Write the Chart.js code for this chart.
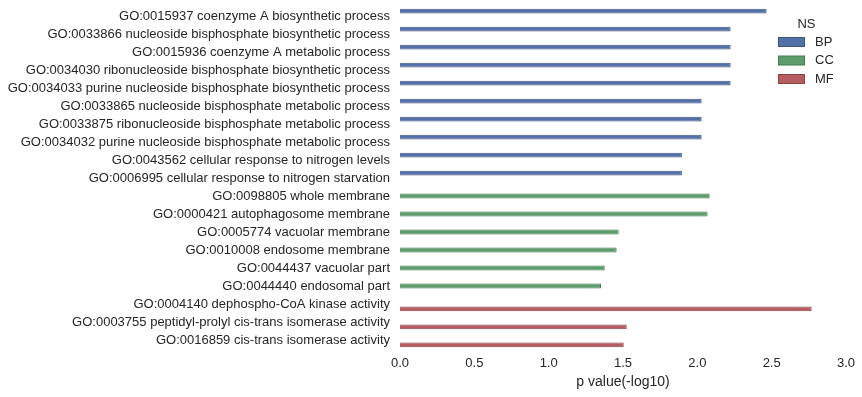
<!DOCTYPE html>
<html>
<head>
<meta charset="utf-8">
<script src="https://cdn.jsdelivr.net/npm/chart.js@4"></script>
<style>
  html, body { margin: 0; padding: 0; background: #fff; }
  #wrap { width: 862px; height: 397px; position: relative; }
</style>
</head>
<body>
<div id="wrap"><canvas id="c" width="862" height="397"></canvas></div>
<script>
const categories = [
  "GO:0015937 coenzyme A biosynthetic process",
  "GO:0033866 nucleoside bisphosphate biosynthetic process",
  "GO:0015936 coenzyme A metabolic process",
  "GO:0034030 ribonucleoside bisphosphate biosynthetic process",
  "GO:0034033 purine nucleoside bisphosphate biosynthetic process",
  "GO:0033865 nucleoside bisphosphate metabolic process",
  "GO:0033875 ribonucleoside bisphosphate metabolic process",
  "GO:0034032 purine nucleoside bisphosphate metabolic process",
  "GO:0043562 cellular response to nitrogen levels",
  "GO:0006995 cellular response to nitrogen starvation",
  "GO:0098805 whole membrane",
  "GO:0000421 autophagosome membrane",
  "GO:0005774 vacuolar membrane",
  "GO:0010008 endosome membrane",
  "GO:0044437 vacuolar part",
  "GO:0044440 endosomal part",
  "GO:0004140 dephospho-CoA kinase activity",
  "GO:0003755 peptidyl-prolyl cis-trans isomerase activity",
  "GO:0016859 cis-trans isomerase activity"
];
const bpValues = [2.466, 2.224, 2.224, 2.224, 2.224, 2.029, 2.029, 2.029, 1.896, 1.896,
  null, null, null, null, null, null, null, null, null];
const ccValues = [null, null, null, null, null, null, null, null, null, null,
  2.083, 2.069, 1.471, 1.457, 1.377, 1.352, null, null, null];
const mfValues = [null, null, null, null, null, null, null, null, null, null,
  null, null, null, null, null, null, 2.769, 1.525, 1.505];
const xTicks = [0, 0.5, 1.0, 1.5, 2.0, 2.5, 3.0];
const seriesNames = ["BP", "CC", "MF"];
const legendTitle = "NS";
const xTitle = "p value(-log10)";

const fills = ["#5471a7", "#5d9d6c", "#b55d60"];
const edges = ["#3d5580", "#437a50", "#8a4245"];
const textColor = "#262626";
const FONT = "'Liberation Sans', Arial, sans-serif";

const legendPlugin = {
  id: "nsLegend",
  afterDraw(chart) {
    const ctx = chart.ctx;
    ctx.save();
    ctx.fillStyle = textColor;
    ctx.font = "13px " + FONT;
    ctx.textAlign = "center";
    ctx.textBaseline = "middle";
    ctx.fillText(legendTitle, 806.5, 24);
    chart.data.datasets.forEach((ds, i) => {
      const cy = 42 + i * 18.5;
      ctx.fillStyle = ds.backgroundColor;
      ctx.fillRect(778.5, cy - 4.5, 26, 9);
      ctx.strokeStyle = ds.borderColor;
      ctx.lineWidth = 1;
      ctx.strokeRect(778.5, cy - 4.5, 26, 9);
      ctx.fillStyle = textColor;
      ctx.textAlign = "left";
      ctx.fillText(ds.label, 815, cy);
    });
    ctx.restore();
  }
};

new Chart(document.getElementById("c"), {
  type: "bar",
  data: {
    labels: categories,
    datasets: [
      { label: seriesNames[0], data: bpValues, backgroundColor: fills[0], borderColor: edges[0], borderWidth: 1 },
      { label: seriesNames[1], data: ccValues, backgroundColor: fills[1], borderColor: edges[1], borderWidth: 1 },
      { label: seriesNames[2], data: mfValues, backgroundColor: fills[2], borderColor: edges[2], borderWidth: 1 }
    ]
  },
  options: {
    indexAxis: "y",
    responsive: false,
    animation: false,
    categoryPercentage: 0.8,
    barPercentage: 1.0,
    layout: { padding: { top: 7, right: 16, bottom: 0, left: 0 } },
    plugins: { legend: { display: false }, tooltip: { enabled: false } },
    scales: {
      x: {
        min: 0, max: 3,
        afterBuildTicks(scale) { scale.ticks = xTicks.map(v => ({ value: v })); },
        afterFit(scale) { scale.height = 48; scale.paddingLeft = 0; scale.paddingRight = 0; },
        grid: { display: false, drawTicks: false },
        border: { display: false },
        ticks: {
          color: textColor, padding: 7,
          font: { family: FONT, size: 13 },
          callback: v => Number(v).toFixed(1)
        },
        title: {
          display: true, text: xTitle, color: textColor,
          font: { family: FONT, size: 14 }, padding: { top: 1, bottom: 6 }
        }
      },
      y: {
        afterFit(scale) { scale.width = 400; scale.paddingTop = 0; scale.paddingBottom = 0; },
        grid: { display: false, drawTicks: false },
        border: { display: false },
        ticks: { color: textColor, padding: 10, font: { family: FONT, size: 13 }, autoSkip: false }
      }
    }
  },
  plugins: [legendPlugin]
});
</script>
</body>
</html>
